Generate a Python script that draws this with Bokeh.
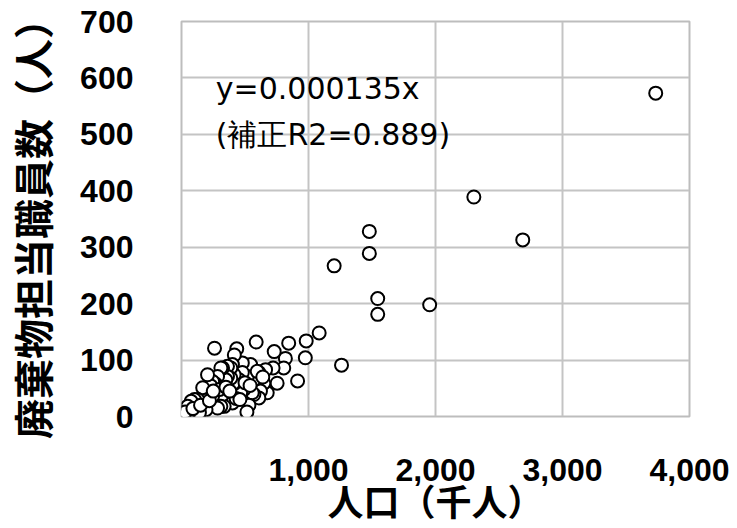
from bokeh.plotting import figure
from bokeh.models import Range1d, FixedTicker, NumeralTickFormatter, ColumnDataSource
from bokeh.core.properties import value
from bokeh.embed import file_html
from bokeh.resources import INLINE

# population (thousand people)
population = [3734, 2302, 2687, 1479, 1479, 1202, 1545, 1545, 1954, 1260,
              1084, 982, 975, 914, 844, 818, 805, 753, 730, 721,
              675, 662, 648, 622, 609, 609, 588, 570, 570, 557,
              544, 531, 518, 515, 596, 492, 479, 479, 466, 453,
              435, 416, 414, 414, 409, 401, 401, 388, 388, 362,
              362, 349, 336, 331, 323, 323, 310, 310, 284, 284,
              271, 260, 258, 245, 245, 232, 205, 205, 193, 180,
              167, 141, 141, 128, 102, 76, 62, 49, 10, 0,
              20, 30, 90, 150, 220, 300, 350, 430, 460, 500,
              540, 640, 250, 380]
# waste management staff (people)
staff = [573, 389, 313, 328, 289, 267, 209, 181, 198, 91,
         148, 134, 104, 63, 130, 103, 86, 59, 115, 86,
         42, 83, 59, 45, 78, 33, 132, 65, 39, 42,
         92, 20, 71, 8, 80, 48, 95, 78, 42, 65,
         120, 109, 58, 74, 59, 92, 24, 86, 68, 89,
         71, 65, 18, 42, 86, 39, 86, 18, 71, 15,
         57, 121, 59, 62, 36, 54, 74, 27, 12, 30,
         51, 21, 7, 30, 30, 27, 9, 18, 4, 4,
         2, 8, 14, 20, 28, 48, 52, 32, 30, 60,
         55, 70, 45, 45]

x_ticks = [1000, 2000, 3000, 4000]
y_ticks = [0, 100, 200, 300, 400, 500, 600, 700]
eq_lines = ["y=0.000135x", "(補正R2=0.889)"]
eq_x = [270, 270]
eq_y = [582, 499]

p = figure(width=737, height=528, output_backend="svg", toolbar_location=None,
           x_range=Range1d(0, 4000), y_range=Range1d(0, 700),
           min_border_left=177, min_border_right=48, min_border_top=21,
           min_border_bottom=111)

p.scatter(population, staff, size=13, marker="circle", fill_color="white",
          line_color="black", line_width=2)

src = ColumnDataSource(dict(x=eq_x, y=eq_y, t=eq_lines))
p.text(x="x", y="y", text="t", source=src, text_font=value("DejaVu Sans"),
       text_font_size="30px", text_color="black", text_align="left",
       text_baseline="middle")

p.xaxis.ticker = FixedTicker(ticks=x_ticks)
p.yaxis.ticker = FixedTicker(ticks=y_ticks)
p.xaxis.formatter = NumeralTickFormatter(format="0,0")

for ax in (p.xaxis, p.yaxis):
    ax.axis_line_color = None
    ax.major_tick_line_color = None
    ax.minor_tick_line_color = None
    ax.major_label_text_font = "Liberation Sans"
    ax.major_label_text_font_style = "bold"
    ax.major_label_text_font_size = "32px"
    ax.major_label_text_color = "black"
    ax.axis_label_text_font = "Noto Sans CJK JP"
    ax.axis_label_text_font_style = "bold"
    ax.axis_label_text_color = "black"

p.xaxis.axis_label = "人口（千人）"
p.yaxis.axis_label = "廃棄物担当職員数（人）"
p.xaxis.axis_label_text_font_size = "36px"
p.yaxis.axis_label_text_font_size = "40px"
p.xaxis.major_label_standoff = 36
p.yaxis.major_label_standoff = 42
p.xaxis.axis_label_standoff = -10
p.yaxis.axis_label_standoff = 16

p.xgrid.grid_line_color = "#c4c4c4"
p.ygrid.grid_line_color = "#c4c4c4"
p.xgrid.grid_line_width = 2
p.ygrid.grid_line_width = 2
p.outline_line_color = "#bdbdbd"
p.outline_line_width = 2
p.background_fill_color = "white"
p.border_fill_color = "white"

open("out.html", "w").write(file_html(p, INLINE))
